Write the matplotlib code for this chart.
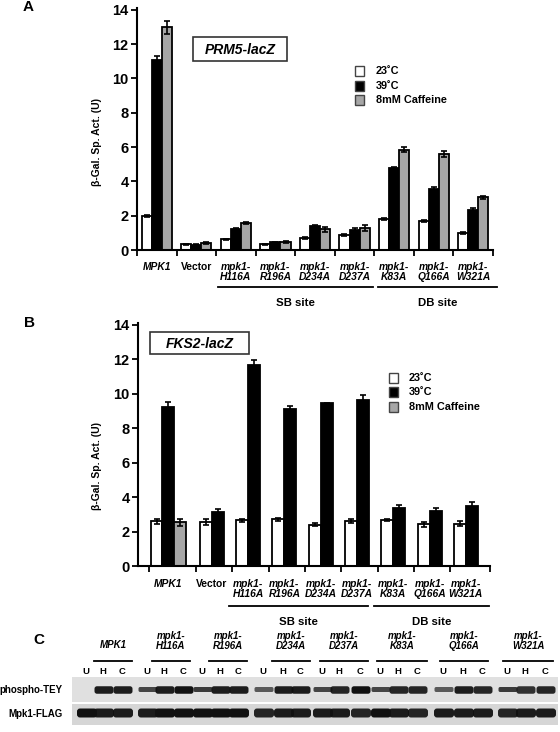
import numpy as np
import matplotlib
matplotlib.use('Agg')
import matplotlib.pyplot as plt
from matplotlib.patches import Rectangle, FancyBboxPatch

plt.rcParams['font.family'] = ['Liberation Sans', 'DejaVu Sans']
plt.rcParams['font.weight'] = 'bold'

## data
groups = ['MPK1', 'Vector', 'H116A', 'R196A', 'D234A', 'D237A', 'K83A', 'Q166A', 'W321A']
series = ['23˚C', '39˚C', '8mM Caffeine']
colors = ['white', 'black', '#a6a6a6']

prm5_23 = [1.97, 0.33, 0.63, 0.33, 0.70, 0.86, 1.83, 1.69, 1.00]
prm5_39 = [11.08, 0.32, 1.20, 0.45, 1.39, 1.14, 4.78, 3.57, 2.31]
prm5_caf = [12.97, 0.42, 1.58, 0.48, 1.20, 1.30, 5.84, 5.59, 3.08]
prm5_err23 = [0.05, 0.04, 0.04, 0.04, 0.05, 0.05, 0.06, 0.08, 0.05]
prm5_err39 = [0.25, 0.03, 0.06, 0.04, 0.06, 0.12, 0.08, 0.10, 0.12]
prm5_errcaf = [0.40, 0.05, 0.07, 0.06, 0.15, 0.18, 0.15, 0.15, 0.08]

fks2_23 = [2.59, 2.55, 2.65, 2.71, 2.40, 2.61, 2.69, 2.42, 2.46]
fks2_39 = [9.23, 3.13, 11.64, 9.12, 9.43, 9.66, 3.36, 3.17, 3.47]
fks2_caf = [2.55, np.nan, np.nan, np.nan, np.nan, np.nan, np.nan, np.nan, np.nan]
fks2_err23 = [0.15, 0.15, 0.10, 0.08, 0.10, 0.12, 0.05, 0.15, 0.15]
fks2_err39 = [0.30, 0.20, 0.30, 0.15, 0.05, 0.25, 0.20, 0.20, 0.25]
fks2_errcaf = [0.20, 0, 0, 0, 0, 0, 0, 0, 0]

# western blot band intensities, lanes U, H, C per strain
tey_int = [[0.0, 0.95, 0.95], [0.75, 0.95, 1.0], [0.8, 0.95, 0.95], [0.65, 0.95, 0.95],
           [0.75, 0.9, 1.0], [0.75, 0.9, 0.9], [0.65, 0.95, 0.9], [0.8, 0.85, 0.9]]
flag_int = [[1.0, 0.95, 0.95], [0.95, 1.0, 1.0], [1.0, 1.0, 1.0], [0.9, 0.95, 0.95],
            [0.95, 0.95, 0.9], [1.0, 0.95, 0.9], [0.95, 0.95, 0.95], [0.9, 0.95, 0.95]]

W, H = 560, 732
fig = plt.figure(figsize=(W / 100, H / 100), dpi=100)
ov = fig.add_axes([0, 0, 1, 1])
ov.set_xlim(0, W)
ov.set_ylim(H, 0)
ov.axis('off')

def frac(l, t, r, b):
    return [l / W, 1 - b / H, (r - l) / W, (b - t) / H]

def style_axes(ax):
    ax.set_facecolor('none')
    ax.set_ylim(0, 14.1)
    ax.set_yticks(range(0, 15, 2))
    for s in ['top', 'right']:
        ax.spines[s].set_visible(False)
    for s in ['left', 'bottom']:
        ax.spines[s].set_linewidth(1.5)
    ax.tick_params(axis='y', labelsize=10.5, width=1.3, length=4, pad=2)
    ax.tick_params(axis='x', width=1.3, length=4, labelbottom=False)
    for lb in ax.get_yticklabels():
        lb.set_fontweight('bold')

def label_name(g):
    if g == 'MPK1':
        return 'MPK1', 'italic'
    if g == 'Vector':
        return 'Vector', 'normal'
    return 'mpk1-\n' + g, 'italic'

# ---------- panel A
axA = fig.add_axes(frac(137, 8, 493, 250))
style_axes(axA)
xa = np.arange(len(groups)) + 0.5
wa = 0.255
valsA = [prm5_23, prm5_39, prm5_caf]
errsA = [prm5_err23, prm5_err39, prm5_errcaf]
for k in range(3):
    axA.bar(xa + (k - 1) * wa, valsA[k], wa, yerr=errsA[k], color=colors[k],
            edgecolor='black', linewidth=1.3,
            error_kw=dict(ecolor='black', elinewidth=1.2, capsize=2, capthick=1.2))
axA.set_xlim(0, 9)
axA.set_xticks(range(10))

# ---------- panel B
axB = fig.add_axes(frac(138, 323, 490, 566))
style_axes(axB)
xb = np.array([0.84] + [2.2 + i for i in range(8)])
wb = 0.33
valsB = [fks2_23, fks2_39, fks2_caf]
errsB = [fks2_err23, fks2_err39, fks2_errcaf]
for k in range(3):
    axB.bar(xb + (k - 1) * wb, valsB[k], wb, yerr=errsB[k], color=colors[k],
            edgecolor='black', linewidth=1.3,
            error_kw=dict(ecolor='black', elinewidth=1.2, capsize=2, capthick=1.2))
axB.set_xlim(0, 9.7)
axB.set_xticks([0.3] + list(xb[1:] - 0.6) + [9.7])

# category labels
for ax, xs, y0, shift in [(axA, xa, 262, False), (axB, xb, 579, True)]:
    for i, g in enumerate(groups):
        txt, st = label_name(g)
        xc = xs[i] - (wb / 2 if shift and i > 0 else 0)
        px = ax.transData.transform((xc, 0))[0]
        ov.text(px, y0, txt, ha='center', va='top', fontsize=7.4, style=st,
                fontweight='bold', linespacing=1.0)

# brackets and site labels
for y, sb, db, ty in [(287, (218, 373), (378, 497), 298), (606, (229, 368), (374, 489), 617)]:
    ov.plot(sb, [y, y], color='black', lw=1.3)
    ov.plot(db, [y, y], color='black', lw=1.3)
    ov.text(sum(sb) / 2, ty, 'SB site', ha='center', va='top', fontsize=8.2, fontweight='bold')
    ov.text(sum(db) / 2, ty, 'DB site', ha='center', va='top', fontsize=8.2, fontweight='bold')

# y labels
ov.text(97, 142, 'β-Gal. Sp. Act. (U)', rotation=90, ha='center', va='center',
        fontsize=7.5, fontweight='bold')
ov.text(97, 466, 'β-Gal. Sp. Act. (U)', rotation=90, ha='center', va='center',
        fontsize=7.5, fontweight='bold')

# reporter boxes
for (l, t, r, b), name in [((193, 37, 287, 61), 'PRM5-lacZ'), ((150, 332, 249, 354), 'FKS2-lacZ')]:
    ov.add_patch(Rectangle((l, t), r - l, b - t, fill=False, edgecolor='#333333', lw=1.2))
    ov.text((l + r) / 2, (t + b) / 2 + 1, name, ha='center', va='center', fontsize=10,
            style='italic', fontweight='bold')

# legends
for sx, tx, ys in [(355, 376, (71, 86, 100)), (389, 409, (378, 392, 407))]:
    for k in range(3):
        ov.add_patch(Rectangle((sx, ys[k] - 5), 9, 10, facecolor=colors[k],
                               edgecolor='#444444', lw=1.0))
        ov.text(tx, ys[k], series[k], ha='left', va='center', fontsize=7.8, fontweight='bold')

# panel letters
ov.text(23, 7, 'A', fontsize=11, fontweight='bold', ha='left', va='center')
ov.text(24, 323, 'B', fontsize=11, fontweight='bold', ha='left', va='center')
ov.text(33, 640, 'C', fontsize=11, fontweight='bold', ha='left', va='center')

# ---------- panel C (blot)
lanes = [(86, 103, 122), (147, 164, 183), (202, 220, 238), (263, 283, 300),
         (322, 339, 360), (380, 398, 417), (443, 463, 482), (507, 525, 545)]
lines = [(94, 132), (152, 190), (209, 247), (272, 310), (320, 368), (377, 427),
         (440, 488), (503, 553)]
for i, g in enumerate(groups[:1] + groups[2:]):
    x0, x1 = lines[i]
    xc = (x0 + x1) / 2
    if g == 'MPK1':
        ov.text(xc, 645, 'MPK1', ha='center', va='center', fontsize=7, style='italic',
                fontweight='bold')
    else:
        ov.text(xc, 641, 'mpk1-\n' + g, ha='center', va='center', fontsize=7,
                style='italic', fontweight='bold', linespacing=1.0)
    ov.plot([x0, x1], [661, 661], color='black', lw=1.3)
    for j, L in enumerate('UHC'):
        ov.text(lanes[i][j], 671, L, ha='center', va='center', fontsize=6.8, fontweight='bold')

ov.add_patch(Rectangle((72, 677), 486, 25, facecolor='#e0e0e0', edgecolor='none'))
ov.add_patch(Rectangle((72, 704), 486, 21, facecolor='#d6d6d6', edgecolor='none'))
ov.text(63, 690, 'phospho-TEY', ha='right', va='center', fontsize=7, fontweight='bold')
ov.text(63, 714, 'Mpk1-FLAG', ha='right', va='center', fontsize=7, fontweight='bold')

def band(xc, yc, w, h, a):
    pad = h / 3
    ov.add_patch(FancyBboxPatch((xc - w / 2 + pad, yc - h / 2 + pad), w - 2 * pad,
                                h - 2 * pad, boxstyle='round,pad=%g' % pad,
                                facecolor='#111111', alpha=a, edgecolor='none'))

for i in range(8):
    for j in range(3):
        a = tey_int[i][j]
        if a > 0:
            hgt = 5 if j == 0 else 7.5
            band(lanes[i][j] + 1, 690 - (0.5 if j == 0 else 0), 19, hgt, a)
        band(lanes[i][j] + 1, 713, 20, 9, flag_int[i][j])

fig.savefig('out.png', dpi=100)
